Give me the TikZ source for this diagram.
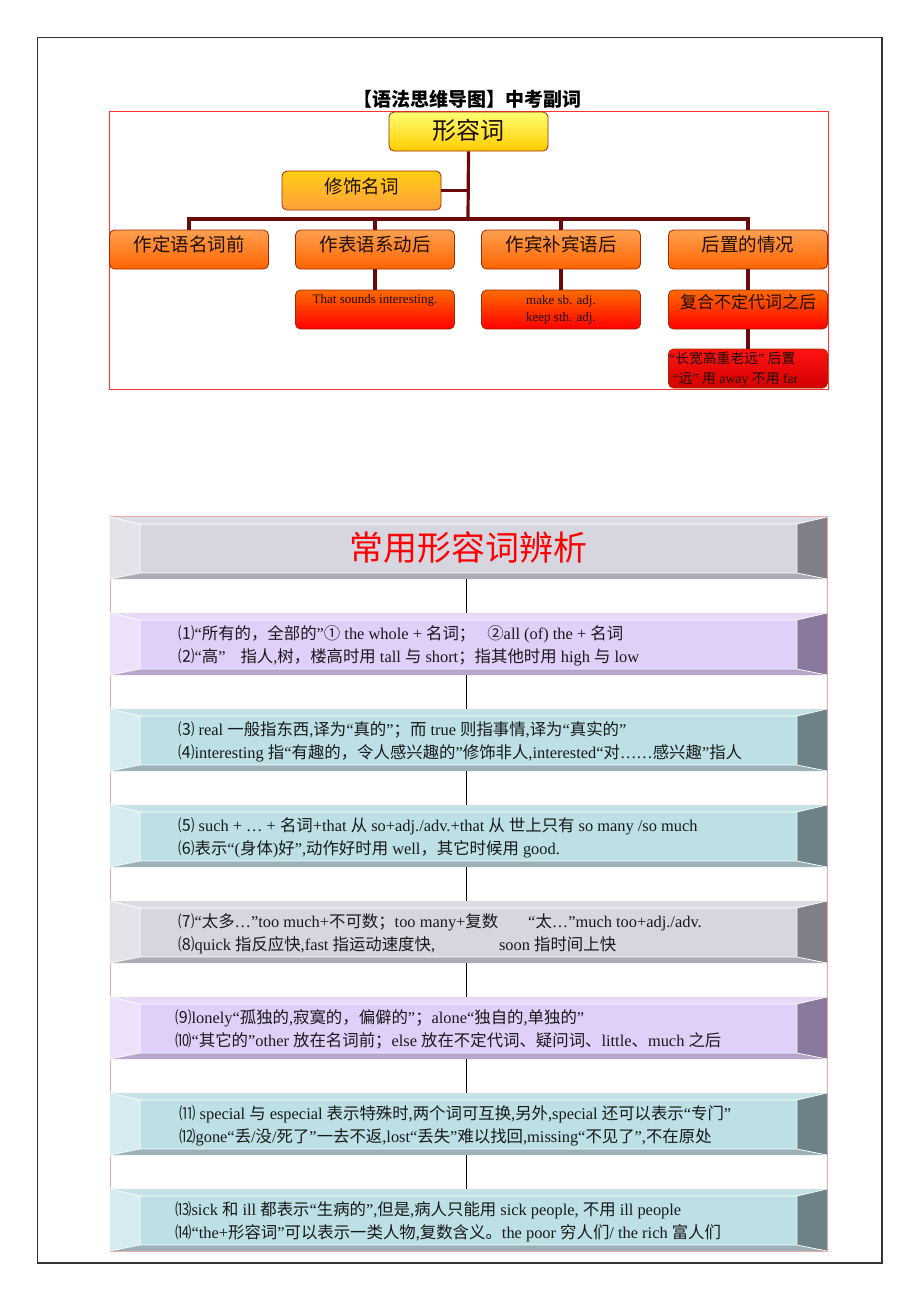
\documentclass[tikz,border=0pt]{standalone}
\usepackage{fontspec}
\setmainfont{Liberation Serif}
\newfontfamily\cjk{Noto Sans CJK SC}
\XeTeXinterchartokenstate=1
\newXeTeXintercharclass\CJKcls
\newcount\cjkc
\def\setcjkrange#1#2{\cjkc=#1\relax\loop\XeTeXcharclass\cjkc=\CJKcls\relax\advance\cjkc by 1\relax\ifnum\cjkc<#2\relax\repeat}
\setcjkrange{"4E00}{"A000}
\setcjkrange{"3000}{"3040}
\setcjkrange{"FF00}{"FFF0}
\setcjkrange{"2460}{"2500}
\XeTeXinterchartoks 0 \CJKcls = {\cjk}
\XeTeXinterchartoks 4095 \CJKcls = {\cjk}
\XeTeXinterchartoks \CJKcls 0 = {\rmfamily}
\XeTeXinterchartoks \CJKcls 4095 = {\rmfamily}
\usetikzlibrary{shapes.misc}
% bevel colours
\definecolor{gF}{HTML}{D6D6E0}\definecolor{gT}{HTML}{DCDCE4}\definecolor{gL}{HTML}{E3E3EA}\definecolor{gR}{HTML}{807F87}\definecolor{gB}{HTML}{ABAAB5}
\definecolor{pF}{HTML}{E0CFF8}\definecolor{pT}{HTML}{E7DAF9}\definecolor{pL}{HTML}{ECE0FB}\definecolor{pR}{HTML}{8A789C}\definecolor{pB}{HTML}{B9A5CB}
\definecolor{tF}{HTML}{BDDFE6}\definecolor{tT}{HTML}{C5E2E8}\definecolor{tL}{HTML}{D6EBF0}\definecolor{tR}{HTML}{6D8288}\definecolor{tB}{HTML}{9BB1B7}
\definecolor{frame}{HTML}{F4A8A8}
\definecolor{mmborder}{HTML}{A02800}
\definecolor{conncol}{HTML}{6A0A0A}
\definecolor{mmtext}{HTML}{1E0E00}
\tikzset{
  mm/.style={draw=mmborder, line width=0.8pt, rounded corners=5pt, minimum width=159pt, minimum height=39pt, inner sep=0pt},
  lvA/.style={mm, top color=yellow!55!white, bottom color={rgb,255:red,255;green,204;blue,0}},
  lvM/.style={mm, top color={rgb,255:red,255;green,206;blue,20}, bottom color={rgb,255:red,255;green,160;blue,60}},
  lvB/.style={mm, top color={rgb,255:red,255;green,160;blue,80}, bottom color={rgb,255:red,255;green,100;blue,0}},
  lvC/.style={mm, top color={rgb,255:red,255;green,106;blue,0}, bottom color={rgb,255:red,255;green,0;blue,0}},
  lvD/.style={mm, top color={rgb,255:red,255;green,20;blue,20}, bottom color={rgb,255:red,210;green,0;blue,0}},
  mmtxt/.style={inner sep=0pt, text=mmtext, font=\fontsize{18.5}{22}\selectfont},
  smtxt/.style={inner sep=0pt, text=mmtext, align=center, font=\fontsize{13}{17}\selectfont},
  conn/.style={draw=conncol, line width=3.2pt},
  vconn/.style={draw=black, line width=1pt},
  boxtxt/.style={inner sep=0pt, anchor=west, align=left, text=black!90, font=\fontsize{16.4}{23}\selectfont},
}
\newcommand\bevelbox[3]{%
 \begin{scope}[shift={(0,#1)}]
  \fill[#2F] (140,7) rectangle (797,56);
  \fill[#2T] (110,0) -- (827,0) -- (797,7) -- (140,7) -- cycle;
  \fill[#2L] (110,0) -- (140,7) -- (140,56) -- (110,62) -- cycle;
  \fill[#2R] (827,0) -- (797,7) -- (797,56) -- (827,62) -- cycle;
  \fill[#2B] (110,62) -- (140,56) -- (797,56) -- (827,62) -- cycle;
  \draw[white, line width=0.7pt] (140,7) rectangle (797,56) (110,0) -- (140,7) (827,0) -- (797,7) (110,62) -- (140,56) (827,62) -- (797,56);
  \coordinate (#3top) at (466,0);
  \coordinate (#3bot) at (466,62);
 \end{scope}}
\begin{document}
\begin{tikzpicture}[x=1pt,y=-1pt]
\useasboundingbox (0,0) rectangle (920,1302);
\fill[white] (0,0) rectangle (920,1302);
\draw[line width=1.2pt, black!80] (37.5,37.5) rectangle (882,1263);

% ---------- mind map ----------
\node[inner sep=0pt, font=\fontsize{19}{21}\selectfont\bfseries] (title) at (467,99) {【语法思维导图】中考副词};
\draw[red!80, line width=0.8pt] (109.5,111) rectangle (828,389);

\node[lvA] (adj) at (468.5,131.5) {};
\node[mmtxt, font=\fontsize{24}{26}\selectfont] (adjt) at (468.5,130) {形容词};
\node[lvM] (mod) at (361.5,190.5) {};
\node[mmtxt] (modt) at (361.5,186) {修饰名词};

\node[lvB] (l2a) at (189,249.5) {};
\node[lvB] (l2b) at (375,249.5) {};
\node[lvB] (l2c) at (561,249.5) {};
\node[lvB] (l2d) at (748,249.5) {};
\node[mmtxt] (l2at) at (189,244) {作定语名词前};
\node[mmtxt] (l2bt) at (375,244) {作表语系动后};
\node[mmtxt] (l2ct) at (561,244) {作宾补宾语后};
\node[mmtxt] (l2dt) at (748,244) {后置的情况};

\node[lvC] (l3b) at (375,309.5) {};
\node[lvC] (l3c) at (561,309.5) {};
\node[lvC] (l3d) at (748,309.5) {};
\node[smtxt] (l3bt) at (375,300) {That sounds interesting.};
\node[smtxt, anchor=north] (l3ct) at (561,295) {make sb. adj.\\keep sth. adj.};
\node[mmtxt, font=\fontsize{17}{20}\selectfont] (l3dt) at (748,302) {复合不定代词之后};

\node[lvD] (l4) at (748,368.5) {};
\node[smtxt, align=left, anchor=north west, font=\fontsize{13.8}{20}\selectfont] (l4t) at (669,352) {“长宽高重老远” 后置\\\ “远” 用 away 不用 far};

\coordinate (bar) at (468,219);
\draw[conn] (adj.south) -- (bar);
\draw[conn] (mod.east) -- (mod.east -| adj.south);
\draw[conn] (l2a.north) |- (bar) -| (l2d.north);
\draw[conn] (l2b.north) -- (l2b.north |- bar);
\draw[conn] (l2c.north) -- (l2c.north |- bar);
\draw[conn] (l2b.south) -- (l3b.north);
\draw[conn] (l2c.south) -- (l3c.north);
\draw[conn] (l2d.south) -- (l3d.north);
\draw[conn] (l3d.south) -- (l4.north);

% ---------- bevel list ----------
\draw[frame, line width=0.8pt] (110,516.5) rectangle (827,1251.5);
\bevelbox{517}{g}{b0}
\bevelbox{613}{p}{b1}
\bevelbox{709}{t}{b2}
\bevelbox{805}{t}{b3}
\bevelbox{901}{g}{b4}
\bevelbox{997}{p}{b5}
\bevelbox{1093}{t}{b6}
\bevelbox{1189}{t}{b7}
\draw[vconn] (b0bot) -- (b1top);
\draw[vconn] (b1bot) -- (b2top);
\draw[vconn] (b2bot) -- (b3top);
\draw[vconn] (b3bot) -- (b4top);
\draw[vconn] (b4bot) -- (b5top);
\draw[vconn] (b5bot) -- (b6top);
\draw[vconn] (b6bot) -- (b7top);

\node[inner sep=0pt, text=red, font=\fontsize{34}{36}\selectfont] (banner) at (468,548) {常用形容词辨析};

\node[boxtxt] (t1) at (178,645.5) {⑴“所有的，全部的”① the whole + 名词；\hspace{12pt}②all (of) the + 名词\\⑵“高”\hspace{15pt}指人,树，楼高时用 tall 与 short；指其他时用 high 与 low};
\node[boxtxt] (t2) at (178,741.5) {⑶ real 一般指东西,译为“真的”；而 true 则指事情,译为“真实的”\\⑷interesting 指“有趣的，令人感兴趣的”修饰非人,interested“对……感兴趣”指人};
\node[boxtxt] (t3) at (178,837.5) {⑸ such + … + 名词+that 从 so+adj./adv.+that 从 世上只有 so many /so much\\⑹表示“(身体)好”,动作好时用 well，其它时候用 good.};
\node[boxtxt] (t4) at (178,933.5) {⑺“太多…”too much+不可数；too many+复数\hspace{30pt}“太…”much too+adj./adv.\\⑻quick 指反应快,fast 指运动速度快,\hspace{64pt}soon 指时间上快};
\node[boxtxt] (t5) at (175,1029.5) {⑼lonely“孤独的,寂寞的，偏僻的”；alone“独自的,单独的”\\⑽“其它的”other 放在名词前；else 放在不定代词、疑问词、little、much 之后};
\node[boxtxt] (t6) at (179,1125.5) {⑾ special 与 especial 表示特殊时,两个词可互换,另外,special 还可以表示“专门”\\⑿gone“丢/没/死了”一去不返,lost“丢失”难以找回,missing“不见了”,不在原处};
\node[boxtxt] (t7) at (175,1221.5) {⒀sick 和 ill 都表示“生病的”,但是,病人只能用 sick people, 不用 ill people\\⒁“the+形容词”可以表示一类人物,复数含义。the poor 穷人们/ the rich 富人们};
\end{tikzpicture}
\end{document}
